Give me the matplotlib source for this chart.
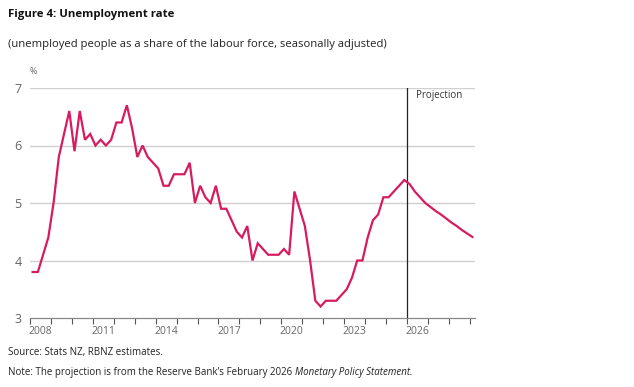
import matplotlib
matplotlib.use("Agg")
import matplotlib.pyplot as plt
import numpy as np

plt.rcParams['font.family'] = ['Open Sans', 'DejaVu Sans']

# Quarterly unemployment rate, 2008Q1 - 2025Q4 (actual)
actual = [
    3.8, 3.8, 4.1, 4.4,   # 2008
    5.0, 5.8, 6.2, 6.6,   # 2009
    5.9, 6.6, 6.1, 6.2,   # 2010
    6.0, 6.1, 6.0, 6.1,   # 2011
    6.4, 6.4, 6.7, 6.3,   # 2012
    5.8, 6.0, 5.8, 5.7,   # 2013
    5.6, 5.3, 5.3, 5.5,   # 2014
    5.5, 5.5, 5.7, 5.0,   # 2015
    5.3, 5.1, 5.0, 5.3,   # 2016
    4.9, 4.9, 4.7, 4.5,   # 2017
    4.4, 4.6, 4.0, 4.3,   # 2018
    4.2, 4.1, 4.1, 4.1,   # 2019
    4.2, 4.1, 5.2, 4.9,   # 2020
    4.6, 4.0, 3.3, 3.2,   # 2021
    3.3, 3.3, 3.3, 3.4,   # 2022
    3.5, 3.7, 4.0, 4.0,   # 2023
    4.4, 4.7, 4.8, 5.1,   # 2024
    5.1, 5.2, 5.3, 5.4,   # 2025
]
# Projection, 2026Q1 - 2029Q1
projection = [5.33, 5.2, 5.1, 5.0, 4.93, 4.86, 4.8, 4.73, 4.66, 4.6, 4.53, 4.47, 4.41]

start_year = 2008
proj_start = 2026
year_labels = [2008, 2011, 2014, 2017, 2020, 2023, 2026]
y_ticks = [3, 4, 5, 6, 7]

line_col = '#D81B60'
grey_txt = '#666666'

# quarter mid-points
n_all = len(actual) + len(projection)
x_all = start_year + (np.arange(n_all) + 0.5) / 4
values = actual + projection

fig = plt.figure(figsize=(6.34, 3.87), dpi=100)
ax = fig.add_axes([30 / 634, 1 - 318 / 387, 445 / 634, 230 / 387])

for yv in y_ticks[1:]:
    ax.axhline(yv, color='#d0d0d0', lw=1.0, zorder=1)

ax.plot(x_all, values, color=line_col, lw=1.6, zorder=3, solid_joinstyle='miter')
ax.axvline(proj_start, color='#222222', lw=0.9, zorder=2)
ax.text(proj_start + 1.55, 6.87, 'Projection', fontsize=7, color='#333333',
        ha='center', va='center')

ax.set_xlim(start_year, 2029.25)
ax.set_ylim(3, 7)

ax.set_yticks(y_ticks)
ax.set_yticklabels([str(v) for v in y_ticks])
ax.tick_params(axis='y', length=0, pad=6, labelsize=9, labelcolor=grey_txt)

ax.set_xticks(np.arange(start_year, 2030))
ax.set_xticklabels([])
ax.set_xticks([y + 0.5 for y in year_labels], minor=True)
ax.set_xticklabels([str(y) for y in year_labels], minor=True)
ax.tick_params(axis='x', which='major', length=4, width=0.8, color='#555555', direction='out')
ax.tick_params(axis='x', which='minor', length=0, pad=6, labelsize=7.5, labelcolor=grey_txt)

for s in ['left', 'right', 'top']:
    ax.spines[s].set_visible(False)
ax.spines['bottom'].set_color('#888888')
ax.spines['bottom'].set_linewidth(0.9)

ax.text(0.0, 1.07, '%', transform=ax.transAxes, fontsize=6.5, color=grey_txt,
        ha='left', va='center')

fig.text(8 / 634, 1 - 15 / 387, 'Figure 4: Unemployment rate', fontsize=8.2,
         fontweight='bold', color='#111111', ha='left', va='center')
fig.text(8 / 634, 1 - 45 / 387,
         '(unemployed people as a share of the labour force, seasonally adjusted)',
         fontsize=8.1, color='#222222', ha='left', va='center')
fig.text(8 / 634, 1 - 353 / 387, 'Source: Stats NZ, RBNZ estimates.',
         fontsize=7.0, color='#222222', ha='left', va='center')
note = fig.text(8 / 634, 1 - 372 / 387,
                'Note: The projection is from the Reserve Bank\u2019s February 2026 ',
                fontsize=7.0, color='#222222', ha='left', va='center')
renderer = fig.canvas.get_renderer()
bb = note.get_window_extent(renderer)
fig.text(bb.x1 / fig.bbox.width, 1 - 372 / 387, 'Monetary Policy Statement.',
         fontsize=7.0, style='italic', color='#222222', ha='left', va='center')

fig.savefig('out.png', dpi=100)
